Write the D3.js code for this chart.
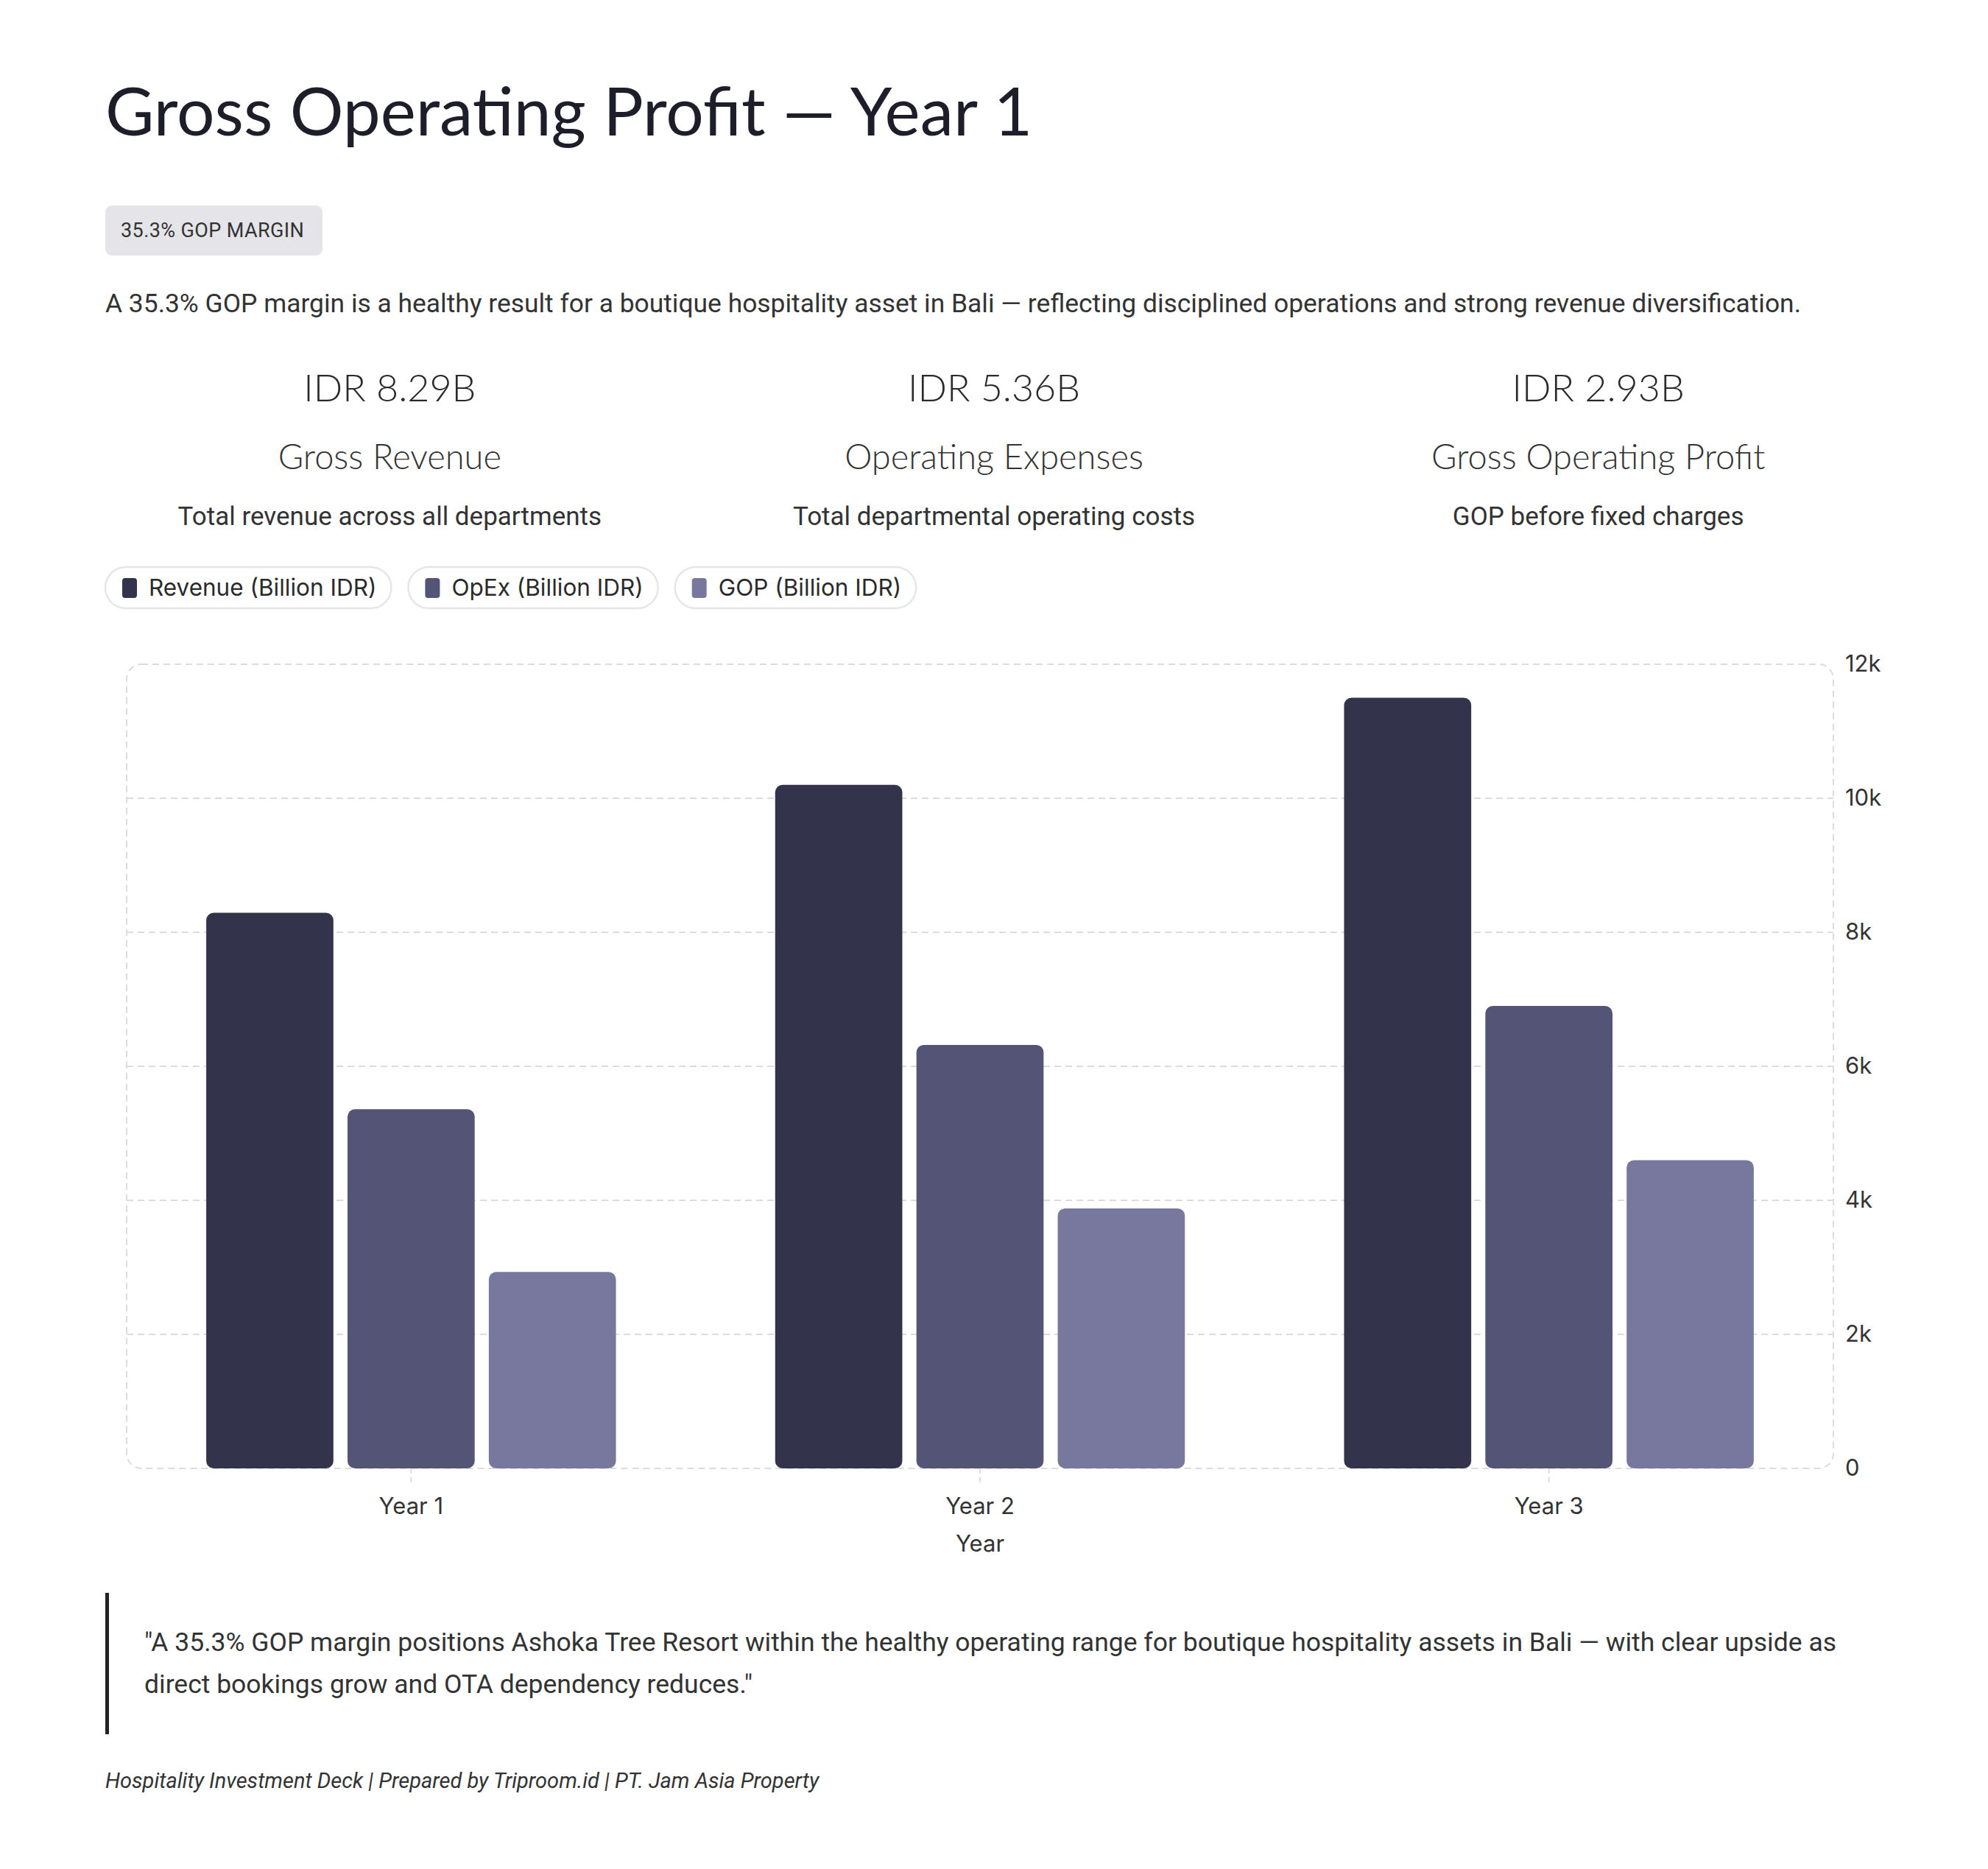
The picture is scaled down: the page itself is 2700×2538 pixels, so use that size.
<!DOCTYPE html>
<html>
<head>
<meta charset="utf-8">
<script src="https://cdn.jsdelivr.net/npm/d3@7"></script>
<style>
  body { margin: 0; background: #fff; }
  svg { display: block; }
</style>
</head>
<body>
<svg id="page"></svg>
<script>
// chart data
const years = ["Year 1", "Year 2", "Year 3"];
const seriesNames = ["Revenue (Billion IDR)", "OpEx (Billion IDR)", "GOP (Billion IDR)"];
const revenue = [8290, 10200, 11500];
const opex = [5360, 6320, 6900];
const gop = [2930, 3880, 4600];
const seriesColors = ["#33334b", "#545476", "#78789e"];
const yTicks = [0, 2000, 4000, 6000, 8000, 10000, 12000];

// header texts
const titleText = "Gross Operating Profit \u2014 Year 1";
const badgeText = "35.3% GOP MARGIN";
const descText = "A 35.3% GOP margin is a healthy result for a boutique hospitality asset in Bali \u2014 reflecting disciplined operations and strong revenue diversification.";
const kpiValues = ["IDR 8.29B", "IDR 5.36B", "IDR 2.93B"];
const kpiLabels = ["Gross Revenue", "Operating Expenses", "Gross Operating Profit"];
const kpiNotes = ["Total revenue across all departments", "Total departmental operating costs", "GOP before fixed charges"];
const quoteText = "\"A 35.3% GOP margin positions Ashoka Tree Resort within the healthy operating range for boutique hospitality assets in Bali \u2014 with clear upside as direct bookings grow and OTA dependency reduces.\"";
const footerText = "Hospitality Investment Deck | Prepared by Triproom.id | PT. Jam Asia Property";

const W = 2700, H = 2538;
const left = 143, contentW = 2414;
const headFont = "Lato, 'Open Sans', sans-serif";
const bodyFont = "Roboto, 'Noto Sans', sans-serif";
const chartFont = "Inter, Roboto, sans-serif";

const svg = d3.select("#page").attr("width", W).attr("height", H);

// title
svg.append("text")
  .attr("x", left).attr("y", 184)
  .attr("font-family", headFont).attr("font-size", 91)
  .attr("fill", "#1e1e2a")
  .text(titleText);

// badge
const badge = svg.append("g");
badge.append("rect")
  .attr("x", left).attr("y", 279).attr("width", 295).attr("height", 68)
  .attr("rx", 9).attr("fill", "#e4e4e9");
badge.append("text")
  .attr("x", 164).attr("y", 322)
  .attr("font-family", bodyFont).attr("font-size", 27)
  .attr("letter-spacing", 0.4)
  .attr("fill", "#333")
  .text(badgeText);

// description
svg.append("text")
  .attr("x", left).attr("y", 424)
  .attr("font-family", bodyFont).attr("font-size", 35.4)
  .attr("fill", "#333")
  .text(descText);

// kpi cards
const gap = 48;
const colW = (contentW - 2 * gap) / 3;
const kpi = svg.append("g").selectAll("g")
  .data(kpiValues)
  .join("g")
  .attr("transform", (d, i) => `translate(${left + i * (colW + gap) + colW / 2},0)`)
  .attr("text-anchor", "middle");

kpi.append("text")
  .attr("y", 545)
  .attr("font-family", headFont).attr("font-weight", 300).attr("font-size", 52)
  .attr("fill", "#2a2a2a")
  .text(d => d);
kpi.append("text")
  .attr("y", 637)
  .attr("font-family", headFont).attr("font-weight", 300).attr("font-size", 47)
  .attr("fill", "#333")
  .text((d, i) => kpiLabels[i]);
kpi.append("text")
  .attr("y", 713)
  .attr("font-family", bodyFont).attr("font-size", 35)
  .attr("fill", "#333")
  .text((d, i) => kpiNotes[i]);

// legend pills
const legend = svg.append("g");
let lx = left;
seriesNames.forEach((name, i) => {
  const g = legend.append("g").attr("transform", `translate(${lx},770)`);
  const pill = g.append("rect")
    .attr("y", 0).attr("height", 56).attr("rx", 28)
    .attr("fill", "#fff").attr("stroke", "#e6e6e6").attr("stroke-width", 2.5);
  g.append("rect")
    .attr("x", 23).attr("y", 15).attr("width", 20).attr("height", 27)
    .attr("rx", 4).attr("fill", seriesColors[i]);
  const t = g.append("text")
    .attr("x", 59).attr("y", 39)
    .attr("font-family", chartFont).attr("font-size", 31.5)
    .attr("fill", "#2a2a2a")
    .text(name);
  const pw = 59 + t.node().getComputedTextLength() + 20;
  pill.attr("width", pw);
  lx += pw + 23;
});

// chart
const plot = { left: 172, right: 2490, top: 902, bottom: 1994 };
const x0 = d3.scaleBand().domain(years).range([plot.left, plot.right]);
const groupFrac = 0.745;
const x1 = d3.scaleBand().domain(seriesNames)
  .range([0, x0.bandwidth() * groupFrac])
  .paddingInner(0.1).paddingOuter(0.05);
const y = d3.scaleLinear().domain([0, 12000]).range([plot.bottom, plot.top]);

const chart = svg.append("g");

// grid lines
chart.append("g").selectAll("line")
  .data(yTicks.filter(t => t > 0 && t < 12000))
  .join("line")
  .attr("x1", plot.left).attr("x2", plot.right)
  .attr("y1", d => y(d)).attr("y2", d => y(d))
  .attr("stroke", "#dcdcdc").attr("stroke-width", 2)
  .attr("stroke-dasharray", "9,6");

// dashed frame
chart.append("rect")
  .attr("x", plot.left).attr("y", plot.top)
  .attr("width", plot.right - plot.left).attr("height", plot.bottom - plot.top)
  .attr("rx", 20).attr("fill", "none")
  .attr("stroke", "#dcdcdc").attr("stroke-width", 2)
  .attr("stroke-dasharray", "9,6");

// bars
const rows = years.map((yr, i) => ({
  year: yr,
  values: [revenue[i], opex[i], gop[i]].map((v, j) => ({ key: seriesNames[j], value: v, color: seriesColors[j] }))
}));

chart.append("g").selectAll("g")
  .data(rows)
  .join("g")
  .attr("transform", d => `translate(${x0(d.year) + x0.bandwidth() * (1 - groupFrac) / 2},0)`)
  .selectAll("rect")
  .data(d => d.values)
  .join("rect")
  .attr("x", d => x1(d.key))
  .attr("y", d => y(d.value))
  .attr("width", x1.bandwidth())
  .attr("height", d => y(0) - y(d.value))
  .attr("rx", 10)
  .attr("fill", d => d.color);

// x axis
const xAxis = chart.append("g")
  .attr("transform", `translate(0,${plot.bottom})`)
  .call(d3.axisBottom(x0).tickSize(23).tickPadding(17));
xAxis.select(".domain").remove();
xAxis.selectAll(".tick line")
  .attr("stroke", "#dcdcdc").attr("stroke-width", 2).attr("stroke-dasharray", "7,5");
xAxis.selectAll(".tick text")
  .attr("font-family", chartFont).attr("font-size", 31).attr("fill", "#333");

chart.append("text")
  .attr("x", (plot.left + plot.right) / 2).attr("y", 2107)
  .attr("text-anchor", "middle")
  .attr("font-family", chartFont).attr("font-size", 31).attr("fill", "#333")
  .text("Year");

// y axis (right)
const yAxis = chart.append("g")
  .attr("transform", `translate(${plot.right},0)`)
  .call(d3.axisRight(y).tickValues(yTicks).tickSize(0).tickPadding(16)
    .tickFormat(d => d === 0 ? "0" : d / 1000 + "k"));
yAxis.select(".domain").remove();
yAxis.selectAll(".tick text")
  .attr("font-family", chartFont).attr("font-size", 31).attr("fill", "#333");

// quote
svg.append("rect")
  .attr("x", left).attr("y", 2163).attr("width", 5).attr("height", 192)
  .attr("fill", "#222");
const quote = svg.append("text")
  .attr("font-family", bodyFont).attr("font-size", 35.5).attr("fill", "#333");
const maxW = 2557 - 196;
let line = [], lineNo = 0;
let tspan = quote.append("tspan").attr("x", 196).attr("y", 2242);
quoteText.split(" ").forEach(word => {
  line.push(word);
  tspan.text(line.join(" "));
  if (tspan.node().getComputedTextLength() > maxW && line.length > 1) {
    line.pop();
    tspan.text(line.join(" "));
    line = [word];
    lineNo++;
    tspan = quote.append("tspan").attr("x", 196).attr("y", 2242 + lineNo * 57).text(word);
  }
});

// footer
svg.append("text")
  .attr("x", left).attr("y", 2428)
  .attr("font-family", bodyFont).attr("font-style", "italic").attr("font-size", 29)
  .attr("fill", "#333")
  .text(footerText);
</script>
</body>
</html>
